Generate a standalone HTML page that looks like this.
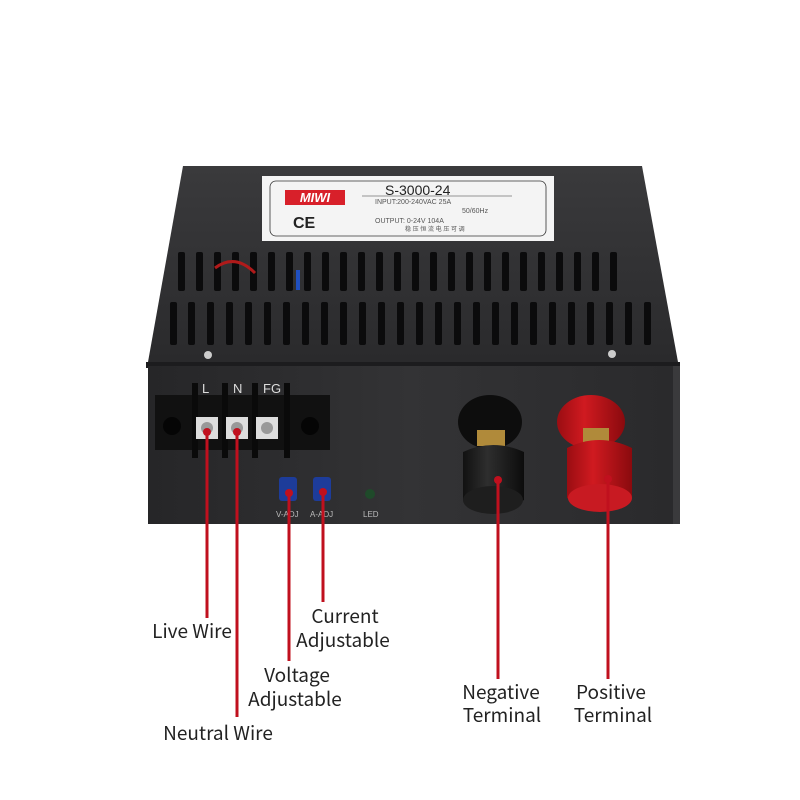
<!DOCTYPE html>
<html><head><meta charset="utf-8"><style>
html,body{margin:0;padding:0;background:#fff;width:800px;height:800px;overflow:hidden}
svg text{font-family:"Liberation Sans",sans-serif}
</style></head><body>
<svg width="800" height="800" viewBox="0 0 800 800" xmlns="http://www.w3.org/2000/svg">
<defs>
<linearGradient id="top" x1="0" y1="0" x2="0" y2="1"><stop offset="0" stop-color="#3a3a3c"/><stop offset="1" stop-color="#2a2a2c"/></linearGradient>
<linearGradient id="front" x1="0" y1="0" x2="1" y2="0"><stop offset="0" stop-color="#262628"/><stop offset=".5" stop-color="#333335"/><stop offset="1" stop-color="#2a2a2c"/></linearGradient>
<linearGradient id="red" x1="0" y1="0" x2="1" y2="0"><stop offset="0" stop-color="#9a0d12"/><stop offset=".4" stop-color="#d01a20"/><stop offset="1" stop-color="#8a0a0e"/></linearGradient>
<linearGradient id="blk" x1="0" y1="0" x2="1" y2="0"><stop offset="0" stop-color="#111"/><stop offset=".4" stop-color="#2e2e2e"/><stop offset="1" stop-color="#0c0c0c"/></linearGradient>
</defs>
<polygon points="183,166 642,166 678,362 148,362" fill="url(#top)"/>
<rect x="262" y="176" width="292" height="65" fill="#f4f4f4"/>
<rect x="270" y="181" width="276" height="55" rx="6" fill="none" stroke="#333" stroke-width="0.8"/>
<rect x="285" y="190" width="60" height="15" fill="#d8202a"/>
<text x="315" y="202" font-size="13" font-weight="bold" font-style="italic" fill="#fff" text-anchor="middle">MIWI</text>
<text x="293" y="228" font-size="16" font-weight="bold" fill="#222">CE</text>
<text x="385" y="195" font-size="14" fill="#222">S-3000-24</text>
<line x1="362" y1="196" x2="512" y2="196" stroke="#333" stroke-width=".6"/>
<text x="375" y="204" font-size="7" fill="#555">INPUT:200-240VAC  25A</text>
<text x="462" y="213" font-size="7" fill="#555">50/60Hz</text>
<text x="375" y="223" font-size="7" fill="#555">OUTPUT:   0-24V     104A</text>
<text x="405" y="231" font-size="6" fill="#555" font-family="'Noto Sans CJK SC',sans-serif">稳 压 恒 流  电 压 可 调</text>
<g fill="#0b0b0c">
<rect x="178" y="252" width="7" height="39" rx="2"/><rect x="196" y="252" width="7" height="39" rx="2"/><rect x="214" y="252" width="7" height="39" rx="2"/><rect x="232" y="252" width="7" height="39" rx="2"/><rect x="250" y="252" width="7" height="39" rx="2"/><rect x="268" y="252" width="7" height="39" rx="2"/><rect x="286" y="252" width="7" height="39" rx="2"/><rect x="304" y="252" width="7" height="39" rx="2"/><rect x="322" y="252" width="7" height="39" rx="2"/><rect x="340" y="252" width="7" height="39" rx="2"/><rect x="358" y="252" width="7" height="39" rx="2"/><rect x="376" y="252" width="7" height="39" rx="2"/><rect x="394" y="252" width="7" height="39" rx="2"/><rect x="412" y="252" width="7" height="39" rx="2"/><rect x="430" y="252" width="7" height="39" rx="2"/><rect x="448" y="252" width="7" height="39" rx="2"/><rect x="466" y="252" width="7" height="39" rx="2"/><rect x="484" y="252" width="7" height="39" rx="2"/><rect x="502" y="252" width="7" height="39" rx="2"/><rect x="520" y="252" width="7" height="39" rx="2"/><rect x="538" y="252" width="7" height="39" rx="2"/><rect x="556" y="252" width="7" height="39" rx="2"/><rect x="574" y="252" width="7" height="39" rx="2"/><rect x="592" y="252" width="7" height="39" rx="2"/><rect x="610" y="252" width="7" height="39" rx="2"/>
<rect x="170" y="302" width="7" height="43" rx="2"/><rect x="188" y="302" width="7" height="43" rx="2"/><rect x="207" y="302" width="7" height="43" rx="2"/><rect x="226" y="302" width="7" height="43" rx="2"/><rect x="245" y="302" width="7" height="43" rx="2"/><rect x="264" y="302" width="7" height="43" rx="2"/><rect x="283" y="302" width="7" height="43" rx="2"/><rect x="302" y="302" width="7" height="43" rx="2"/><rect x="321" y="302" width="7" height="43" rx="2"/><rect x="340" y="302" width="7" height="43" rx="2"/><rect x="359" y="302" width="7" height="43" rx="2"/><rect x="378" y="302" width="7" height="43" rx="2"/><rect x="397" y="302" width="7" height="43" rx="2"/><rect x="416" y="302" width="7" height="43" rx="2"/><rect x="435" y="302" width="7" height="43" rx="2"/><rect x="454" y="302" width="7" height="43" rx="2"/><rect x="473" y="302" width="7" height="43" rx="2"/><rect x="492" y="302" width="7" height="43" rx="2"/><rect x="511" y="302" width="7" height="43" rx="2"/><rect x="530" y="302" width="7" height="43" rx="2"/><rect x="549" y="302" width="7" height="43" rx="2"/><rect x="568" y="302" width="7" height="43" rx="2"/><rect x="587" y="302" width="7" height="43" rx="2"/><rect x="606" y="302" width="7" height="43" rx="2"/><rect x="625" y="302" width="7" height="43" rx="2"/><rect x="644" y="302" width="7" height="43" rx="2"/>
</g>
<path d="M215,268 q20,-15 40,5" stroke="#b01a1a" stroke-width="3" fill="none"/>
<rect x="296" y="270" width="4" height="20" fill="#2050c0"/>
<circle cx="208" cy="355" r="4" fill="#ccc"/><circle cx="612" cy="354" r="4" fill="#ccc"/>
<rect x="146" y="362" width="534" height="6" fill="#1c1c1e"/>
<rect x="148" y="366" width="525" height="158" fill="url(#front)"/>
<rect x="673" y="366" width="7" height="158" fill="#3a3a3c"/>
<rect x="155" y="395" width="175" height="55" fill="#111"/>
<rect x="192" y="383" width="6" height="75" fill="#0a0a0a"/><rect x="222" y="383" width="6" height="75" fill="#0a0a0a"/><rect x="252" y="383" width="6" height="75" fill="#0a0a0a"/><rect x="284" y="383" width="6" height="75" fill="#0a0a0a"/>
<circle cx="172" cy="426" r="9" fill="#050505"/><circle cx="310" cy="426" r="9" fill="#050505"/>
<rect x="196" y="417" width="22" height="22" fill="#ddd"/><rect x="226" y="417" width="22" height="22" fill="#ddd"/><rect x="256" y="417" width="22" height="22" fill="#ddd"/>
<circle cx="207" cy="428" r="6" fill="#999"/><circle cx="237" cy="428" r="6" fill="#999"/><circle cx="267" cy="428" r="6" fill="#999"/>
<text x="202" y="393" font-size="13" fill="#ddd" font-family="Liberation Serif">L</text>
<text x="233" y="393" font-size="13" fill="#ddd" font-family="Liberation Serif">N</text>
<text x="263" y="393" font-size="13" fill="#ddd" font-family="Liberation Serif">FG</text>
<rect x="279" y="477" width="18" height="24" rx="3" fill="#1d3c9a"/><rect x="313" y="477" width="18" height="24" rx="3" fill="#1d3c9a"/>
<text x="276" y="517" font-size="8" fill="#bbb" font-family="Liberation Serif">V-ADJ</text>
<text x="310" y="517" font-size="8" fill="#bbb" font-family="Liberation Serif">A-ADJ</text>
<circle cx="370" cy="494" r="5" fill="#1f4a2a"/>
<text x="363" y="517" font-size="8" fill="#bbb" font-family="Liberation Serif">LED</text>
<ellipse cx="490" cy="422" rx="32" ry="27" fill="#0d0d0d"/>
<rect x="477" y="430" width="28" height="16" fill="#b08a3a"/>
<path d="M463,452 L463,500 Q493,520 524,500 L524,452 Q493,438 463,452Z" fill="url(#blk)"/>
<ellipse cx="493" cy="500" rx="30" ry="14" fill="#1e1e1e"/>
<ellipse cx="591" cy="422" rx="34" ry="27" fill="url(#red)"/>
<rect x="583" y="428" width="26" height="16" fill="#b08a3a"/>
<path d="M567,448 L567,498 Q599,520 632,498 L632,448 Q599,432 567,448Z" fill="url(#red)"/>
<ellipse cx="600" cy="498" rx="32" ry="14" fill="#c81a22"/>
<g stroke="#c0101e" stroke-width="3">
<line x1="207" y1="432" x2="207" y2="618"/>
<line x1="237" y1="432" x2="237" y2="717"/>
<line x1="289" y1="493" x2="289" y2="661"/>
<line x1="323" y1="492" x2="323" y2="602"/>
<line x1="498" y1="480" x2="498" y2="679"/>
<line x1="608" y1="479" x2="608" y2="679"/>
</g>
<g fill="#c0101e">
<circle cx="207" cy="432" r="4"/><circle cx="237" cy="432" r="4"/><circle cx="289" cy="493" r="4"/><circle cx="323" cy="492" r="4"/><circle cx="498" cy="480" r="4"/><circle cx="608" cy="479" r="4"/>
</g>
<g font-size="19" fill="#222" text-anchor="middle" style="font-family:'Noto Sans CJK SC','Liberation Sans',sans-serif">
<text x="192" y="638" style="font-family:'Noto Sans CJK SC',sans-serif">Live Wire</text>
<text x="218" y="740" style="font-family:'Noto Sans CJK SC',sans-serif">Neutral Wire</text>
<text x="345" y="623" style="font-family:'Noto Sans CJK SC',sans-serif">Current</text>
<text x="343" y="647" style="font-family:'Noto Sans CJK SC',sans-serif">Adjustable</text>
<text x="297" y="682" style="font-family:'Noto Sans CJK SC',sans-serif">Voltage</text>
<text x="295" y="706" style="font-family:'Noto Sans CJK SC',sans-serif">Adjustable</text>
<text x="501" y="699" style="font-family:'Noto Sans CJK SC',sans-serif">Negative</text>
<text x="502" y="722" style="font-family:'Noto Sans CJK SC',sans-serif">Terminal</text>
<text x="611" y="699" style="font-family:'Noto Sans CJK SC',sans-serif">Positive</text>
<text x="613" y="722" style="font-family:'Noto Sans CJK SC',sans-serif">Terminal</text>
</g>
</svg>
</body></html>
